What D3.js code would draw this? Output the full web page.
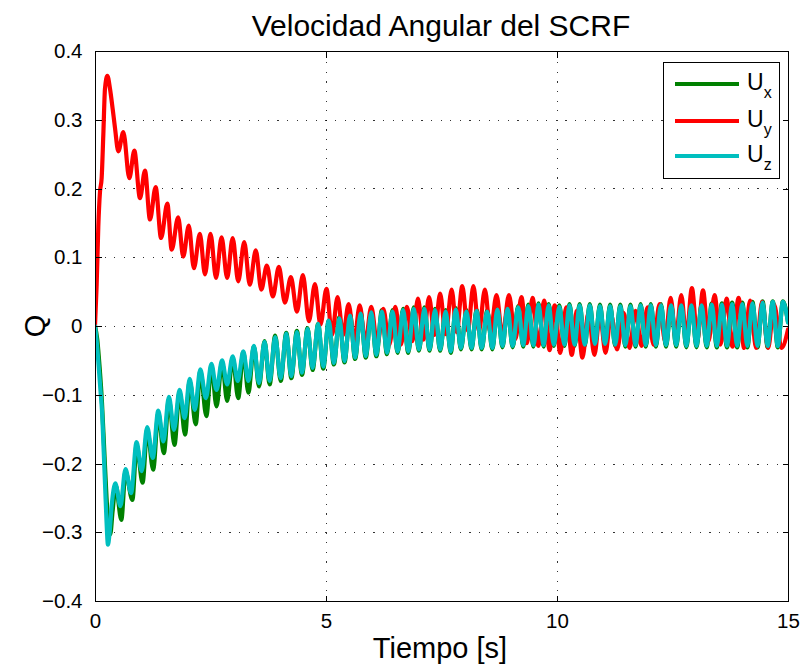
<!DOCTYPE html>
<html>
<head>
<meta charset="utf-8">
<script src="https://cdn.jsdelivr.net/npm/d3@7"></script>
<style>
  body { margin: 0; background: #fff; }
  svg { display: block; }
  text { font-family: "Liberation Sans", Arial, Helvetica, sans-serif; fill: #000; }
</style>
</head>
<body>
<svg id="chart" width="804" height="667"></svg>
<script>
// Axis ticks
const xTicks = [0, 5, 10, 15];
const yTicks = [-0.4, -0.3, -0.2, -0.1, 0, 0.1, 0.2, 0.3, 0.4];

// Legend entries (subscript of U) and line colours
const seriesNames = ["x", "y", "z"];
const seriesColors = ["#008000", "#ff0000", "#00bfbf"];

// Angular velocity samples [time s, value], turning points of each component
const ux = [[0,0],[0.05,-0.02],[0.10,-0.06],[0.15,-0.11],[0.20,-0.18],[0.25,-0.25],[0.29,-0.29],[0.33,-0.303],[0.38,-0.27],[0.45,-0.232],
  [0.57,-0.282],[0.66,-0.212],[0.81,-0.253],[0.90,-0.173],[1.03,-0.228],[1.13,-0.151],[1.26,-0.209],[1.37,-0.127],[1.49,-0.185],[1.60,-0.107],
  [1.72,-0.173],[1.83,-0.096],[1.95,-0.158],[2.05,-0.080],[2.18,-0.143],[2.28,-0.066],[2.41,-0.131],[2.52,-0.058],[2.63,-0.117],[2.75,-0.052],
  [2.86,-0.109],[2.98,-0.046],[3.10,-0.105],[3.21,-0.038],[3.32,-0.097],[3.44,-0.030],[3.55,-0.088],[3.67,-0.022],[3.78,-0.085],[3.90,-0.014],
  [4.02,-0.080],[4.14,-0.010],[4.25,-0.076],[4.37,-0.007],[4.48,-0.071],[4.60,-0.003],[4.71,-0.064],[4.83,0.003],[4.94,-0.062],[5.06,0.008],
  [5.17,-0.056],[5.29,0.013],[5.40,-0.053],[5.52,0.017],[5.63,-0.048],[5.75,0.020],[5.86,-0.046],[5.98,0.022],[6.09,-0.044],[6.21,0.023],
  [6.32,-0.041],[6.44,0.023],[6.55,-0.039],[6.67,0.025],[6.78,-0.039],[6.90,0.027],[7.01,-0.036],[7.13,0.027],[7.24,-0.036],[7.36,0.025],
  [7.47,-0.036],[7.59,0.023],[7.70,-0.039],[7.81,0.026],[7.92,-0.034],[8.04,0.023],[8.15,-0.034],[8.26,0.024],[8.37,-0.034],[8.49,0.023],
  [8.60,-0.034],[8.71,0.026],[8.82,-0.031],[8.93,0.027],[9.04,-0.031],[9.16,0.029],[9.27,-0.030],[9.38,0.031],[9.49,-0.030],[9.60,0.033],
  [9.71,-0.030],[9.82,0.032],[9.93,-0.029],[10.05,0.030],[10.16,-0.029],[10.27,0.032],[10.38,-0.029],[10.49,0.032],[10.60,-0.029],[10.71,0.032],
  [10.82,-0.028],[10.93,0.031],[11.04,-0.028],[11.15,0.031],[11.26,-0.029],[11.37,0.031],[11.48,-0.030],[11.59,0.031],[11.70,-0.030],[11.81,0.032],
  [11.92,-0.030],[12.03,0.032],[12.14,-0.030],[12.25,0.032],[12.36,-0.030],[12.47,0.032],[12.58,-0.030],[12.69,0.032],[12.80,-0.031],[12.91,0.032],
  [13.02,-0.031],[13.13,0.032],[13.24,-0.031],[13.35,0.033],[13.46,-0.031],[13.57,0.033],[13.68,-0.031],[13.79,0.034],[13.90,-0.031],[14.01,0.034],
  [14.12,-0.031],[14.23,0.035],[14.34,-0.031],[14.45,0.036],[14.56,-0.031],[14.67,0.036],[14.78,-0.031],[14.89,0.036],[15.0,0.006]];

const uy = [[0,0],[0.036,0.06],[0.072,0.145],[0.108,0.195],[0.144,0.215],[0.18,0.278],[0.216,0.345],[0.267,0.364],[0.325,0.345],[0.382,0.316],[0.433,0.288],[0.505,0.254],
  [0.613,0.282],[0.743,0.215],[0.851,0.255],[0.974,0.186],[1.082,0.226],[1.19,0.155],[1.313,0.202],[1.43,0.128],[1.566,0.178],[1.66,0.111],
  [1.80,0.158],[1.91,0.101],[2.03,0.146],[2.14,0.084],[2.27,0.134],[2.38,0.075],[2.50,0.134],[2.62,0.070],[2.74,0.129],[2.86,0.070],
  [2.98,0.128],[3.10,0.065],[3.23,0.122],[3.35,0.060],[3.48,0.110],[3.60,0.053],[3.72,0.088],[3.85,0.043],[3.98,0.086],[4.11,0.034],
  [4.24,0.071],[4.37,0.021],[4.50,0.074],[4.63,0.007],[4.76,0.061],[4.88,0.002],[5.01,0.054],[5.13,-0.013],[5.25,0.042],[5.37,-0.013],
  [5.49,0.032],[5.61,-0.022],[5.73,0.030],[5.85,-0.025],[5.98,0.028],[6.11,-0.027],[6.24,0.025],[6.37,-0.027],[6.50,0.028],[6.62,-0.027],
  [6.75,0.028],[6.87,-0.022],[6.99,0.040],[7.11,-0.020],[7.23,0.042],[7.35,-0.013],[7.47,0.047],[7.59,-0.012],[7.72,0.053],[7.83,-0.009],
  [7.95,0.058],[8.07,-0.007],[8.19,0.058],[8.31,-0.007],[8.44,0.053],[8.56,-0.010],[8.69,0.045],[8.82,-0.015],[8.96,0.045],[9.10,-0.019],
  [9.23,0.042],[9.35,-0.025],[9.47,0.041],[9.60,-0.029],[9.72,0.037],[9.84,-0.035],[9.95,0.030],[10.07,-0.039],[10.20,0.027],[10.32,-0.042],
  [10.43,0.022],[10.55,-0.046],[10.68,0.019],[10.81,-0.042],[10.93,0.017],[11.05,-0.039],[11.17,0.017],[11.30,-0.034],[11.44,0.019],[11.57,-0.032],
  [11.70,0.022],[11.83,-0.029],[11.96,0.027],[12.09,-0.027],[12.22,0.032],[12.34,-0.022],[12.46,0.041],[12.57,-0.019],[12.69,0.045],[12.80,-0.017],
  [12.92,0.055],[13.04,-0.019],[13.16,0.052],[13.28,-0.022],[13.41,0.045],[13.54,-0.027],[13.67,0.040],[13.80,-0.030],[13.93,0.041],[14.05,-0.032],
  [14.18,0.037],[14.31,-0.032],[14.44,0.035],[14.57,-0.032],[14.70,0.031],[14.86,-0.032],[15.0,-0.005]];

const uz = [[0,0],[0.04,-0.025],[0.08,-0.059],[0.12,-0.095],[0.15,-0.122],[0.19,-0.185],[0.22,-0.235],[0.25,-0.285],[0.28,-0.318],[0.31,-0.305],[0.36,-0.262],[0.44,-0.229],
  [0.55,-0.262],[0.66,-0.208],[0.78,-0.243],[0.90,-0.169],[1.01,-0.211],[1.13,-0.147],[1.25,-0.192],[1.37,-0.123],[1.48,-0.168],[1.60,-0.103],
  [1.71,-0.151],[1.83,-0.093],[1.94,-0.134],[2.05,-0.077],[2.16,-0.122],[2.28,-0.063],[2.40,-0.105],[2.52,-0.055],[2.63,-0.093],[2.75,-0.050],
  [2.86,-0.085],[2.98,-0.044],[3.09,-0.080],[3.21,-0.037],[3.32,-0.080],[3.44,-0.029],[3.55,-0.083],[3.67,-0.023],[3.78,-0.080],[3.90,-0.016],
  [4.02,-0.076],[4.14,-0.011],[4.25,-0.073],[4.37,-0.009],[4.48,-0.068],[4.60,-0.004],[4.71,-0.061],[4.83,0.003],[4.94,-0.059],[5.06,0.008],
  [5.17,-0.054],[5.29,0.011],[5.40,-0.051],[5.52,0.015],[5.63,-0.046],[5.75,0.018],[5.86,-0.044],[5.98,0.020],[6.09,-0.042],[6.21,0.021],
  [6.32,-0.039],[6.44,0.021],[6.55,-0.037],[6.67,0.023],[6.78,-0.037],[6.90,0.025],[7.01,-0.034],[7.13,0.025],[7.24,-0.034],[7.36,0.023],
  [7.47,-0.034],[7.59,0.021],[7.70,-0.037],[7.81,0.024],[7.92,-0.032],[8.04,0.021],[8.15,-0.032],[8.26,0.022],[8.37,-0.032],[8.49,0.021],
  [8.60,-0.032],[8.71,0.024],[8.82,-0.029],[8.93,0.025],[9.04,-0.029],[9.16,0.027],[9.27,-0.028],[9.38,0.029],[9.49,-0.028],[9.60,0.031],
  [9.71,-0.028],[9.82,0.030],[9.93,-0.027],[10.05,0.028],[10.16,-0.027],[10.27,0.030],[10.38,-0.027],[10.49,0.030],[10.60,-0.027],[10.71,0.030],
  [10.82,-0.026],[10.93,0.029],[11.04,-0.026],[11.15,0.029],[11.26,-0.027],[11.37,0.029],[11.48,-0.028],[11.59,0.029],[11.70,-0.028],[11.81,0.030],
  [11.92,-0.028],[12.03,0.030],[12.14,-0.028],[12.25,0.030],[12.36,-0.028],[12.47,0.030],[12.58,-0.028],[12.69,0.030],[12.80,-0.029],[12.91,0.030],
  [13.02,-0.029],[13.13,0.030],[13.24,-0.029],[13.35,0.031],[13.46,-0.029],[13.57,0.031],[13.68,-0.029],[13.79,0.032],[13.90,-0.029],[14.01,0.032],
  [14.12,-0.029],[14.23,0.033],[14.34,-0.029],[14.45,0.034],[14.56,-0.029],[14.67,0.035],[14.78,-0.029],[14.89,0.035],[15.0,0.005]];

const series = [ux, uy, uz];

const svg = d3.select("#chart");
const plotLeft = 95, plotRight = 788, plotTop = 51, plotBottom = 601;

const x = d3.scaleLinear().domain([0, 15]).range([plotLeft, plotRight]);
const y = d3.scaleLinear().domain([-0.4, 0.4]).range([plotBottom, plotTop]);

// white plot area
svg.append("rect").attr("x", plotLeft).attr("y", plotTop)
  .attr("width", plotRight - plotLeft).attr("height", plotBottom - plotTop).attr("fill", "#fff");

// dotted grid
const grid = svg.append("g").attr("stroke", "#000").attr("stroke-opacity", 0.8)
  .attr("stroke-width", 1).attr("stroke-dasharray", "1.2,8.4").attr("shape-rendering", "crispEdges");
grid.selectAll("line.h").data(yTicks.slice(1, -1)).join("line").attr("class", "h")
  .attr("x1", plotLeft).attr("x2", plotRight)
  .attr("y1", d => Math.round(y(d)) + 0.5).attr("y2", d => Math.round(y(d)) + 0.5);
grid.selectAll("line.v").data(xTicks.slice(1, -1)).join("line").attr("class", "v")
  .attr("y1", plotBottom).attr("y2", plotTop)
  .attr("x1", d => Math.round(x(d)) + 0.5).attr("x2", d => Math.round(x(d)) + 0.5);

// data lines
svg.append("clipPath").attr("id", "plotClip").append("rect")
  .attr("x", plotLeft).attr("y", plotTop).attr("width", plotRight - plotLeft).attr("height", plotBottom - plotTop);

const line = d3.line().x(d => x(d[0])).y(d => y(d[1])).curve(d3.curveMonotoneX);
svg.append("g").attr("clip-path", "url(#plotClip)")
  .selectAll("path").data(series).join("path")
  .attr("d", line)
  .attr("fill", "none")
  .attr("stroke", (d, i) => seriesColors[i])
  .attr("stroke-width", 4.2)
  .attr("stroke-linejoin", "round")
  .attr("stroke-linecap", "round");

// axes: left/bottom with labels, right/top mirrored, ticks pointing inward
const tickLen = 6;
const fmtY = d => (d === 0 ? "0" : d3.format(".1f")(d));
const axL = svg.append("g").attr("transform", `translate(${plotLeft + 0.5},0)`)
  .call(d3.axisLeft(y).tickValues(yTicks).tickSize(-tickLen).tickPadding(tickLen + 7).tickFormat(fmtY));
const axB = svg.append("g").attr("transform", `translate(0,${plotBottom + 0.5})`)
  .call(d3.axisBottom(x).tickValues(xTicks).tickSize(-tickLen).tickPadding(tickLen + 6).tickFormat(d3.format("d")));
const axR = svg.append("g").attr("transform", `translate(${plotRight + 0.5},0)`)
  .call(d3.axisRight(y).tickValues(yTicks).tickSize(-tickLen).tickFormat(""));
const axT = svg.append("g").attr("transform", `translate(0,${plotTop + 0.5})`)
  .call(d3.axisTop(x).tickValues(xTicks).tickSize(-tickLen).tickFormat(""));

[axL, axB, axR, axT].forEach(g => {
  g.selectAll("path.domain").remove();
  g.selectAll("line").attr("stroke", "#000").attr("shape-rendering", "crispEdges");
  g.selectAll("text").attr("font-size", 20.5).attr("font-family", "Liberation Sans, Arial, sans-serif").attr("fill", "#000");
});

// axes box
svg.append("rect").attr("x", plotLeft + 0.5).attr("y", plotTop + 0.5)
  .attr("width", plotRight - plotLeft).attr("height", plotBottom - plotTop)
  .attr("fill", "none").attr("stroke", "#000").attr("stroke-width", 1).attr("shape-rendering", "crispEdges");

// title and axis labels
svg.append("text").attr("x", 441).attr("y", 36).attr("text-anchor", "middle")
  .attr("font-size", 30).text("Velocidad Angular del SCRF");
svg.append("text").attr("x", 440).attr("y", 658).attr("text-anchor", "middle")
  .attr("font-size", 29).text("Tiempo [s]");
svg.append("text").attr("transform", "translate(45,326) rotate(-90)").attr("text-anchor", "middle")
  .attr("font-size", 29).text("Q");

// legend
const lg = svg.append("g");
lg.append("rect").attr("x", 663.5).attr("y", 62.5).attr("width", 116).attr("height", 116)
  .attr("fill", "#fff").attr("stroke", "#000").attr("stroke-width", 1).attr("shape-rendering", "crispEdges");
const rowY = [84, 121, 156];
seriesNames.forEach((n, i) => {
  lg.append("line").attr("x1", 675).attr("x2", 739).attr("y1", rowY[i]).attr("y2", rowY[i])
    .attr("stroke", seriesColors[i]).attr("stroke-width", 4);
  const t = lg.append("text").attr("x", 747).attr("y", rowY[i] + 6).attr("font-size", 23);
  t.append("tspan").text("U");
  t.append("tspan").attr("font-size", 16).attr("dy", 8).text(n);
});
</script>
</body>
</html>
